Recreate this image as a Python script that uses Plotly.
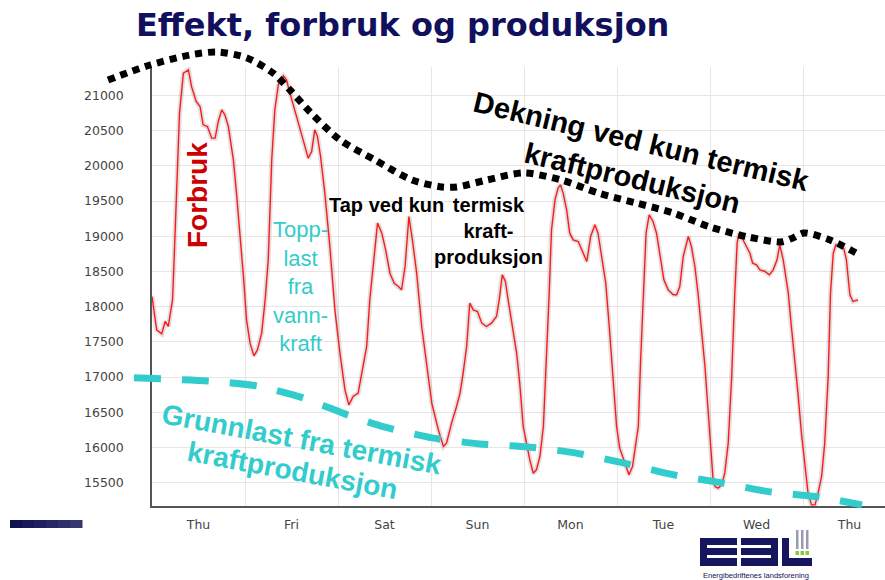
import plotly.graph_objects as go

# ---------------- data ----------------
# hourly consumption (hours from Thursday 00:00, MW)
hours = [0, 1.2, 2.5, 3.4, 4.2, 5.3, 5.7, 6.4, 7.1, 8.1, 9.4, 10.2, 11.4, 12.4, 13.2, 14.3,
         15.4, 16.3, 17.1, 18.0, 18.8, 19.7, 21.0, 21.8, 22.7, 23.6, 24.4, 25.3, 26.3, 27.2,
         28.3, 29.2, 30.0, 30.9, 31.7, 32.6, 33.9, 34.7, 35.6, 36.5, 37.8, 39.0, 40.3, 41.2,
         42.0, 42.7, 43.5, 44.6, 45.9, 47.2, 48.5, 49.8, 50.8, 51.9, 53.2, 54.5, 55.4, 56.2,
         57.4, 58.2, 59.3, 60.3, 61.4, 62.5, 63.6, 64.4, 65.3, 66.3, 67.2, 68.3, 69.6, 70.9,
         72.2, 73.9, 75.2, 76.0, 77.3, 78.6, 79.5, 80.3, 81.2, 82.0, 82.9, 84.0, 85.1, 86.3,
         87.6, 88.9, 89.6, 90.4, 91.2, 91.9, 92.8, 94.1, 94.9, 95.8, 97.5, 98.4, 99.2, 100.1,
         101.0, 101.8, 102.5, 103.1, 104.0, 104.8, 105.4, 106.1, 107.0, 107.8, 108.7, 110.0,
         110.9, 112.2, 113.2, 114.3, 115.1, 116.0, 117.1, 118.0, 119.0, 119.9, 120.7, 122.0,
         123.1, 124.0, 124.9, 125.5, 126.1, 126.8, 127.5, 128.3, 129.3, 130.2, 131.1, 132.1,
         133.2, 134.5, 135.4, 136.2, 137.1, 138.4, 139.2, 140.1, 140.9, 141.8, 142.7, 143.5,
         144.8, 145.3, 146.1, 147.0, 147.8, 148.7, 149.6, 150.4, 151.0, 151.5, 152.1, 153.4,
         154.3, 155.0, 156.0, 156.9, 158.2, 159.3, 160.3, 161.3, 162.0, 162.9, 164.2, 165.0,
         165.9, 166.7, 167.6, 168.5, 169.3, 170.2, 171.1, 171.9, 172.8, 173.6, 174.5, 175.1,
         175.8, 176.5, 177.5, 178.5, 179.2, 180.1, 180.9, 182.2]
forbruk = [18145, 17671, 17614, 17790, 17719, 18097, 18666, 19613, 20749, 21317, 21365, 21128,
           20915, 20844, 20583, 20560, 20394, 20394, 20631, 20796, 20725, 20560, 20086, 19613,
           19044, 18429, 17813, 17482, 17302, 17387, 17624, 18097, 18666, 20086, 20796, 21152,
           21279, 21223, 21033, 20867, 20607, 20370, 20110, 20205, 20512, 20418, 20134, 19613,
           18855, 17955, 17340, 16819, 16606, 16724, 16772, 17150, 17435, 18097, 18760, 19187,
           19044, 18808, 18476, 18334, 18287, 18240, 18571, 19281, 18950, 18476, 17719, 17150,
           16630, 16251, 16014, 16061, 16346, 16582, 16772, 17056, 17435, 18050, 17955, 17932,
           17766, 17719, 17766, 17861, 18097, 18453, 18358, 18097, 17766, 17340, 16914, 16298,
           15825, 15635, 15683, 15872, 16298, 17245, 18192, 19092, 19518, 19684, 19731, 19613,
           19376, 19044, 18950, 18926, 18808, 18642, 18997, 19163, 19044, 18713, 18334, 17719,
           17008, 16298, 15990, 15777, 15612, 15730, 16061, 16298, 17245, 18192, 19044, 19305,
           19210, 19044, 18760, 18382, 18240, 18169, 18169, 18287, 18713, 18997, 18855, 18571,
           18192, 17719, 17150, 16535, 15541, 15446, 15422, 15470, 15635, 16061, 17008, 18192,
           18902, 19044, 18997, 18855, 18760, 18618, 18595, 18524, 18500, 18453, 18524, 18666,
           18879, 18666, 18192, 17719, 17245, 16772, 16203, 15730, 15351, 15185, 15185, 15351,
           15588, 16061, 17008, 18192, 18760, 18879, 18855, 18831, 18666, 18169, 18074, 18097]

day_labels = ["Thu", "Fri", "Sat", "Sun", "Mon", "Tue", "Wed", "Thu"]
y_ticks = [15500, 16000, 16500, 17000, 17500, 18000, 18500, 19000, 19500, 20000, 20500, 21000]

# hand-drawn envelope: "Dekning ved kun termisk kraftproduksjon" (days, MW)
dekning_days = [-0.473, -0.022, 0.409, 0.699, 1.022, 1.301, 1.484, 1.699, 2.022, 2.398, 2.796,
                3.118, 3.280, 3.602, 4.000, 4.398, 4.796, 5.204, 5.602, 6.000, 6.409, 6.763,
                6.892, 7.011, 7.290, 7.570]
dekning_mw = [21220, 21433, 21575, 21618, 21533, 21320, 21078, 20766, 20368, 20084, 19800,
              19701, 19701, 19800, 19900, 19800, 19616, 19474, 19332, 19133, 18991, 18920,
              18977, 19048, 18948, 18764]

# hand-drawn base load: "Grunnlast fra termisk kraftproduksjon" (days, MW)
grunn_days = [-0.194, 0.602, 1.129, 1.624, 2.129, 2.495, 3.011, 3.527, 4.032, 4.548, 5.065,
              5.613, 6.129, 6.645, 7.161, 7.634]
grunn_mw = [16989, 16946, 16875, 16705, 16449, 16293, 16137, 16051, 16009, 15924, 15782,
            15611, 15498, 15370, 15299, 15185]

# ---------------- geometry / style ----------------
W, H = 885, 580
AX_L, AX_R, AX_T, AX_B = 152, 885, 67, 506       # plot area in px
DAY_PX = 93.0
Y_REF_V, Y_REF_PX, PX_PER_MW = 21000, 95.5, 35.2 / 500

def px_to_day(px):
    return (px - AX_L) / DAY_PX

def py_to_mw(py):
    return Y_REF_V - (py - Y_REF_PX) / PX_PER_MW

def PX(x):
    return x / W

def PY(y):
    return 1 - y / H

RED = "#ff1a1a"
CYAN = "#33cccc"
NAVY = "#10105c"
GRID = "#ebe4e4"
TICKFONT = dict(family="DejaVu Sans", size=12.5, color="#444444")

days = [h / 24 for h in hours]

fig = go.Figure()
# soft shadow under the consumption curve
fig.add_trace(go.Scatter(x=days, y=forbruk, mode="lines",
                         line=dict(color="rgba(120,120,120,0.22)", width=5),
                         hoverinfo="skip", xaxis="x", yaxis="y"))
fig.add_trace(go.Scatter(x=days, y=forbruk, mode="lines", name="Forbruk",
                         line=dict(color=RED, width=1.4), xaxis="x", yaxis="y"))
# overlay drawings (full-figure axes, same units)
fig.add_trace(go.Scatter(x=grunn_days, y=grunn_mw, mode="lines",
                         line=dict(color=CYAN, width=7, dash="27px,21px", shape="spline",
                                   smoothing=0.6),
                         xaxis="x2", yaxis="y2"))
fig.add_trace(go.Scatter(x=dekning_days, y=dekning_mw, mode="lines",
                         line=dict(color="black", width=7, dash="7px,6px", shape="spline",
                                   smoothing=0.8),
                         xaxis="x2", yaxis="y2"))

annotations = [
    dict(text="<b>Effekt, forbruk og produksjon</b>", x=PX(402), y=PY(25),
         font=dict(family="DejaVu Sans", size=32, color=NAVY)),
    dict(text="<b>Forbruk</b>", x=PX(197), y=PY(195), textangle=-90,
         font=dict(family="Liberation Sans", size=28, color="#cc0000")),
    dict(text="Topp-<br>last<br>fra<br>vann-<br>kraft", x=PX(300), y=PY(287), align="center",
         font=dict(family="Liberation Sans", size=22, color=CYAN)),
    dict(text="<b>Tap ved kun</b>", x=PX(386), y=PY(205),
         font=dict(family="Liberation Sans", size=20, color="black")),
    dict(text="<b>termisk<br>kraft-<br>produksjon</b>", x=PX(488), y=PY(231), align="center",
         font=dict(family="Liberation Sans", size=20, color="black")),
    dict(text="<b>Dekning ved kun termisk<br>kraftproduksjon</b>", x=PX(637), y=PY(160),
         textangle=13.5, align="center",
         font=dict(family="Liberation Sans", size=29, color="black")),
    dict(text="<b>Grunnlast fra termisk</b>", x=PX(302), y=PY(439), textangle=10.5,
         font=dict(family="Liberation Sans", size=28, color=CYAN)),
    dict(text="<b>kraftproduksjon</b>", x=PX(292), y=PY(470), textangle=10.5,
         font=dict(family="Liberation Sans", size=28, color=CYAN)),
    dict(text="Energibedriftenes landsforening", x=PX(756), y=PY(575),
         font=dict(family="Liberation Sans", size=7.5, color=NAVY)),
]
for a in annotations:
    a.update(xref="paper", yref="paper", showarrow=False, xanchor="center",
             yanchor="middle")

shapes = []

def rect(x0, y0, x1, y1, color):
    shapes.append(dict(type="rect", xref="paper", yref="paper", x0=PX(x0), x1=PX(x1),
                       y0=PY(y1), y1=PY(y0), fillcolor=color, line=dict(width=0),
                       layer="above"))

# navy bar bottom-left (gradient)
bar_cols = ["#111150", "#17175a", "#1e1e60", "#262666", "#2e2e6a", "#36366e"]
seg = (82 - 10) / len(bar_cols)
for i, c in enumerate(bar_cols):
    rect(10 + i * seg, 520, 10 + (i + 1) * seg + 0.5, 528, c)

# EBL logo
LOGO = "#16165e"
for x0 in (700, 741):
    rect(x0, 538, x0 + 37, 545, LOGO)
    rect(x0, 548, x0 + 37, 555, LOGO)
    rect(x0, 558, x0 + 37, 566, LOGO)
rect(700, 538, 707, 566, LOGO)
rect(771, 538, 778, 566, LOGO)
rect(782, 538, 789, 566, LOGO)
rect(782, 558, 812, 566, LOGO)
for gx in (796, 801, 806):
    rect(gx, 530, gx + 2.5, 549, "#9a9ab4")
    rect(gx - 0.5, 551, gx + 3, 555, "#8cc63f")

fig.update_layout(
    width=W, height=H,
    margin=dict(l=0, r=0, t=0, b=0),
    paper_bgcolor="white", plot_bgcolor="rgba(0,0,0,0)",
    showlegend=False,
    xaxis=dict(domain=[PX(AX_L), PX(AX_R)], range=[0, px_to_day(AX_R)],
               tickmode="array", tickvals=[i + 0.5 for i in range(len(day_labels))],
               ticktext=day_labels, showgrid=False, zeroline=False,
               showline=True, linecolor="#555555", linewidth=1.5, ticks="",
               ticklabelstandoff=6, tickfont=TICKFONT, anchor="y",
               minor=dict(tickmode="array", tickvals=list(range(1, 8)), showgrid=True,
                          gridcolor=GRID, gridwidth=1, ticks="")),
    yaxis=dict(domain=[PY(AX_B), PY(AX_T)], range=[py_to_mw(AX_B), py_to_mw(AX_T)],
               tickmode="array", tickvals=y_ticks, ticktext=[str(v) for v in y_ticks],
               showgrid=True, gridcolor=GRID,
               gridwidth=1, zeroline=False, showline=True, linecolor="#555555",
               linewidth=1.5, ticks="", ticklabelstandoff=24, tickfont=TICKFONT,
               anchor="x"),
    xaxis2=dict(domain=[0, 1], range=[px_to_day(0), px_to_day(W)], visible=False,
                anchor="y2", fixedrange=True),
    yaxis2=dict(domain=[0, 1], range=[py_to_mw(H), py_to_mw(0)], visible=False,
                anchor="x2", fixedrange=True),
    annotations=annotations,
    shapes=shapes,
)

fig.write_html("out.html", config={"displayModeBar": False},
               post_script="document.body.style.margin='0';")
